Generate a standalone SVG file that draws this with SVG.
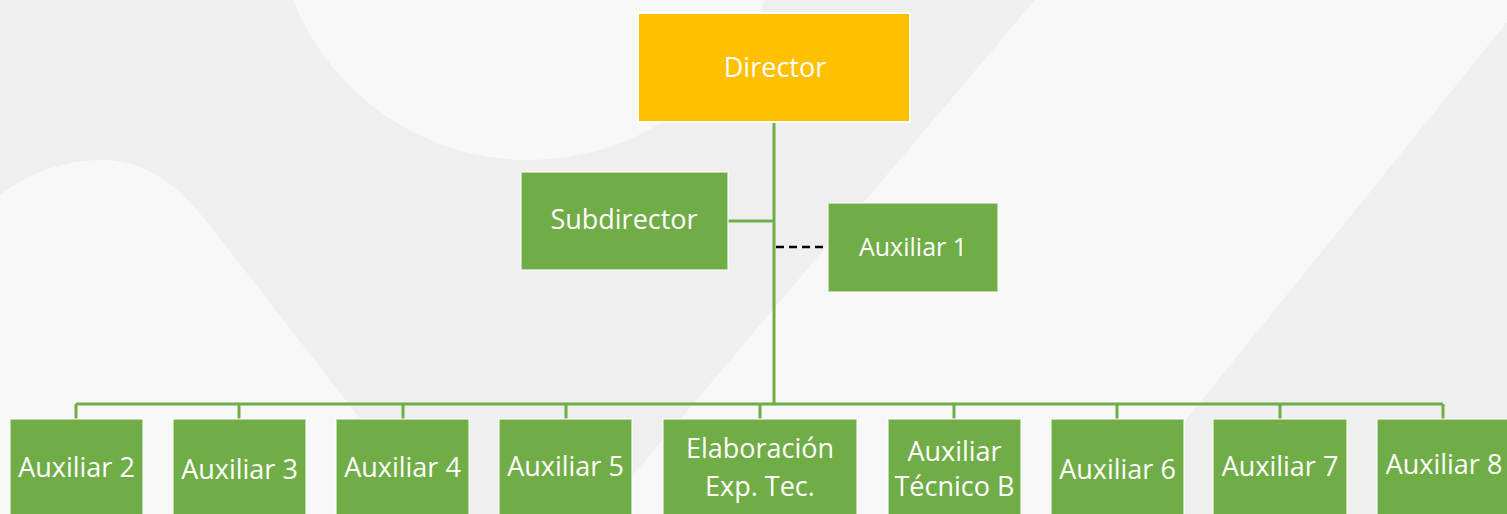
<svg xmlns="http://www.w3.org/2000/svg" width="1507" height="514" viewBox="0 0 1507 514">
<style>
.bg{fill:#efefef}
.lt{fill:#f8f8f8}
.g rect{fill:#70AD47;stroke:#ffffff;stroke-width:1.5;stroke-opacity:0.7}
.d rect{fill:#FFC000;stroke:#ffffff;stroke-width:2}
text{font-family:"Open Sans","Liberation Sans",sans-serif;font-size:27px;fill:#ffffff;text-anchor:middle}
.ln{stroke:#70AD47;stroke-width:3;fill:none}
.dash{stroke:#000000;stroke-width:2.5;stroke-dasharray:8 5;fill:none}
</style>
<rect class="bg" x="0" y="0" width="1507" height="514"/>
<circle class="lt" cx="529" cy="-94" r="254"/>
<path class="lt" d="M0,195 C30,172 65,160 103,160 C150,160 185,190 225,245 L400,470 Q420,495 440,514 L0,514 Z"/>
<path class="lt" d="M1035,0 L1525,0 L1110,514 L600,514 Z"/>
<g id="connectors">
<line class="ln" x1="774" y1="122" x2="774" y2="404"/>
<line class="ln" x1="728" y1="221" x2="774" y2="221"/>
<line class="dash" x1="776" y1="247" x2="828" y2="247"/>
<line class="ln" x1="76" y1="404" x2="1443" y2="404"/>
<path class="ln" d="M76,404V419M239,404V419M403,404V419M566,404V419M760,404V419M954,404V419M1117,404V419M1280,404V419M1443,404V419"/>
</g>
<g id="director" class="d"><rect x="638" y="13" width="272" height="109"/><text x="775" y="77">Director</text></g>
<g id="subdirector" class="g"><rect x="521" y="172" width="207" height="98"/><text x="624" y="229">Subdirector</text></g>
<g id="auxiliar1" class="g"><rect x="828" y="203" width="170" height="89"/><text x="913" y="256" style="font-size:25px">Auxiliar 1</text></g>
<g id="auxiliar2" class="g"><rect x="10" y="419" width="133" height="100"/><text x="76.5" y="477">Auxiliar 2</text></g>
<g id="auxiliar3" class="g"><rect x="173" y="419" width="133" height="100"/><text x="239.5" y="479">Auxiliar 3</text></g>
<g id="auxiliar4" class="g"><rect x="336" y="419" width="133" height="100"/><text x="402.5" y="477">Auxiliar 4</text></g>
<g id="auxiliar5" class="g"><rect x="499" y="419" width="133" height="100"/><text x="565.5" y="476">Auxiliar 5</text></g>
<g id="elaboracion" class="g"><rect x="663" y="419" width="194" height="100"/><text x="760" y="458">Elaboración</text><text x="760" y="496">Exp. Tec.</text></g>
<g id="auxiliarTecnicoB" class="g"><rect x="888" y="419" width="133" height="100"/><text x="954.5" y="461">Auxiliar</text><text x="954.5" y="496">Técnico B</text></g>
<g id="auxiliar6" class="g"><rect x="1051" y="419" width="133" height="100"/><text x="1117.5" y="479">Auxiliar 6</text></g>
<g id="auxiliar7" class="g"><rect x="1213" y="419" width="134" height="100"/><text x="1280" y="476">Auxiliar 7</text></g>
<g id="auxiliar8" class="g"><rect x="1377" y="419" width="133" height="100"/><text x="1444" y="474">Auxiliar 8</text></g>
</svg>
